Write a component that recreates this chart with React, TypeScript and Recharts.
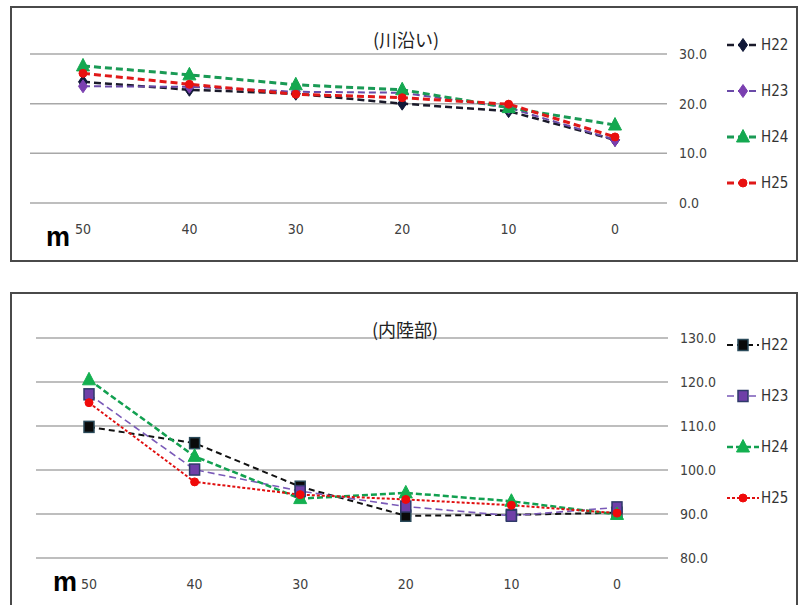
import React from 'react';
import { LineChart, Line, XAxis, YAxis, CartesianGrid, Legend } from 'recharts';

const categories = ['50', '40', '30', '20', '10', '0'];

const riverH22 = [24.4, 22.8, 22.0, 20.0, 18.5, 12.7];
const riverH23 = [23.5, 23.4, 22.4, 22.2, 19.2, 12.7];
const riverH24 = [27.6, 25.8, 23.8, 22.8, 19.2, 15.7];
const riverH25 = [26.1, 23.9, 21.9, 21.2, 19.9, 13.3];

const inlandH22 = [109.8, 106.1, 96.2, 89.6, 89.8, 90.3];
const inlandH23 = [117.2, 100.1, 95.2, 91.7, 89.6, 91.5];
const inlandH24 = [120.5, 103.1, 93.5, 94.8, 92.9, 89.9];
const inlandH25 = [115.3, 97.3, 94.4, 93.3, 92.0, 90.2];

const riverTicks = [0, 10, 20, 30];
const inlandTicks = [80, 90, 100, 110, 120, 130];

const riverData = categories.map((c, i) => ({
  cat: c,
  H22: riverH22[i],
  H23: riverH23[i],
  H24: riverH24[i],
  H25: riverH25[i],
}));

const inlandData = categories.map((c, i) => ({
  cat: c,
  H22: inlandH22[i],
  H23: inlandH23[i],
  H24: inlandH24[i],
  H25: inlandH25[i],
}));

const FONT = '"Liberation Sans Narrow", "DejaVu Sans Condensed", "Open Sans", sans-serif';
const CJK = '"Noto Sans CJK JP", "Noto Sans CJK SC", sans-serif';

type Shape = 'diamond' | 'square' | 'triangle' | 'circle';
type Style = {
  name: string;
  stroke: string;
  width: number;
  dash: string;
  shape: Shape;
  fill: string;
  outline: string;
};

const riverStyles: Style[] = [
  { name: 'H22', stroke: '#1a1a2a', width: 2.5, dash: '7 4', shape: 'diamond', fill: '#101838', outline: '#101838' },
  { name: 'H23', stroke: '#6a4aa8', width: 2, dash: '7 4', shape: 'diamond', fill: '#7a3fb0', outline: '#7a3fb0' },
  { name: 'H24', stroke: '#1a9a55', width: 3, dash: '7 4', shape: 'triangle', fill: '#14a850', outline: '#14a850' },
  { name: 'H25', stroke: '#e01818', width: 3, dash: '7 4', shape: 'circle', fill: '#e81010', outline: '#e81010' },
];

const inlandStyles: Style[] = [
  { name: 'H22', stroke: '#111111', width: 2, dash: '6 4', shape: 'square', fill: '#0a0a0a', outline: '#2a4a5a' },
  { name: 'H23', stroke: '#7a5ab8', width: 1.6, dash: '7 4', shape: 'square', fill: '#6f3fa8', outline: '#2f3a6a' },
  { name: 'H24', stroke: '#12a050', width: 2.5, dash: '6 3', shape: 'triangle', fill: '#14b050', outline: '#14b050' },
  { name: 'H25', stroke: '#e01010', width: 2, dash: '3 2', shape: 'circle', fill: '#f00a0a', outline: '#f00a0a' },
];

function Marker({ shape, cx, cy, fill, outline }: { shape: Shape; cx: number; cy: number; fill: string; outline: string }) {
  if (shape === 'diamond') {
    const w = 4.5;
    const h = 6.5;
    return <path d={`M${cx},${cy - h}L${cx + w},${cy}L${cx},${cy + h}L${cx - w},${cy}Z`} fill={fill} stroke={outline} strokeWidth={1} />;
  }
  if (shape === 'square') {
    return <rect x={cx - 5} y={cy - 5.5} width={10} height={11} fill={fill} stroke={outline} strokeWidth={1.5} />;
  }
  if (shape === 'triangle') {
    return <path d={`M${cx},${cy - 7.5}L${cx + 6.5},${cy + 5}L${cx - 6.5},${cy + 5}Z`} fill={fill} stroke={outline} strokeWidth={1} />;
  }
  return <circle cx={cx} cy={cy} r={4} fill={fill} stroke={outline} strokeWidth={1} />;
}

const makeDot = (s: Style) => (props: any) => {
  const { cx, cy, index } = props;
  if (cx == null || cy == null) return <g key={`e-${index}`} />;
  return (
    <g key={`${s.name}-${index}`}>
      <Marker shape={s.shape} cx={cx} cy={cy} fill={s.fill} outline={s.outline} />
    </g>
  );
};

const makeLegend = (styles: Style[], gap: number) => () => (
  <div style={{ display: 'flex', flexDirection: 'column' }}>
    {styles.map((s) => (
      <div key={s.name} style={{ height: gap, display: 'flex', alignItems: 'center' }}>
        <svg width={32} height={16} style={{ display: 'block' }}>
          <line x1={0} y1={8} x2={32} y2={8} stroke={s.stroke} strokeWidth={s.width} strokeDasharray={s.dash} />
          <Marker shape={s.shape} cx={16} cy={8} fill={s.fill} outline={s.outline} />
        </svg>
        <span style={{ fontFamily: FONT, fontSize: 15, color: '#333', marginLeft: 2 }}>{s.name}</span>
      </div>
    ))}
  </div>
);

const tickStyle = { fontFamily: FONT, fontSize: 14, fill: '#404040' };

function Panel({
  data,
  styles,
  ticks,
  domain,
  height,
  margin,
  padLeft,
  padRight,
  legendTop,
  legendGap,
}: {
  data: any[];
  styles: Style[];
  ticks: number[];
  domain: [number, number];
  height: number;
  margin: { top: number; right: number; bottom: number; left: number };
  padLeft: number;
  padRight: number;
  legendTop: number;
  legendGap: number;
}) {
  return (
    <LineChart width={788} height={height} data={data} margin={margin}>
      <CartesianGrid vertical={false} stroke="#a8a8a8" strokeWidth={1.5} />
      <XAxis
        dataKey="cat"
        axisLine={false}
        tickLine={false}
        tickSize={0}
        tickMargin={21}
        height={40}
        padding={{ left: padLeft, right: padRight }}
        tick={tickStyle}
        interval={0}
      />
      <YAxis
        orientation="right"
        domain={domain}
        ticks={ticks}
        axisLine={false}
        tickLine={false}
        tickSize={0}
        tickMargin={12}
        width={60}
        tick={tickStyle}
        tickFormatter={(v: number) => v.toFixed(1)}
        allowDataOverflow
      />
      <Legend
        layout="vertical"
        align="center"
        verticalAlign="middle"
        wrapperStyle={{ left: 717, top: legendTop, width: 70 }}
        content={makeLegend(styles, legendGap)}
      />
      {styles.map((s) => (
        <Line
          key={s.name}
          type="linear"
          dataKey={s.name}
          stroke={s.stroke}
          strokeWidth={s.width}
          strokeDasharray={s.dash}
          dot={makeDot(s)}
          activeDot={false}
          isAnimationActive={false}
        />
      ))}
    </LineChart>
  );
}

export default function App() {
  return (
    <div style={{ position: 'absolute', left: 0, top: 0, width: 803, height: 605, overflow: 'hidden', background: '#fff' }}>
      {/* top panel */}
      <div style={{ position: 'absolute', left: 10, top: 6, width: 788, height: 256, border: '2px solid #4a4a4a', boxSizing: 'border-box' }} />
      <div style={{ position: 'absolute', left: 10, top: 6 }}>
        <Panel
          data={riverData}
          styles={riverStyles}
          ticks={riverTicks}
          domain={[0, 30]}
          height={256}
          margin={{ top: 48, right: 71, bottom: 19, left: 20 }}
          padLeft={53}
          padRight={52}
          legendTop={16}
          legendGap={46}
        />
      </div>
      <div style={{ position: 'absolute', left: 361, top: 26, width: 90, textAlign: 'center', fontFamily: CJK, fontSize: 18, color: '#222', lineHeight: '26px' }}>
        (川沿い)
      </div>
      <div style={{ position: 'absolute', left: 46, top: 222, fontFamily: '"Liberation Sans", Arial, sans-serif', fontWeight: 'bold', fontSize: 27, color: '#000', lineHeight: '30px' }}>
        m
      </div>

      {/* bottom panel */}
      <div style={{ position: 'absolute', left: 10, top: 292, width: 788, height: 330, border: '2px solid #4a4a4a', boxSizing: 'border-box' }} />
      <div style={{ position: 'absolute', left: 10, top: 292 }}>
        <Panel
          data={inlandData}
          styles={inlandStyles}
          ticks={inlandTicks}
          domain={[80, 130]}
          height={320}
          margin={{ top: 46, right: 70, bottom: 14, left: 26 }}
          padLeft={53}
          padRight={51}
          legendTop={27}
          legendGap={51}
        />
      </div>
      <div style={{ position: 'absolute', left: 360, top: 316, width: 90, textAlign: 'center', fontFamily: CJK, fontSize: 18, color: '#222', lineHeight: '26px' }}>
        (内陸部)
      </div>
      <div style={{ position: 'absolute', left: 53, top: 567, fontFamily: '"Liberation Sans", Arial, sans-serif', fontWeight: 'bold', fontSize: 27, color: '#000', lineHeight: '30px' }}>
        m
      </div>
    </div>
  );
}
